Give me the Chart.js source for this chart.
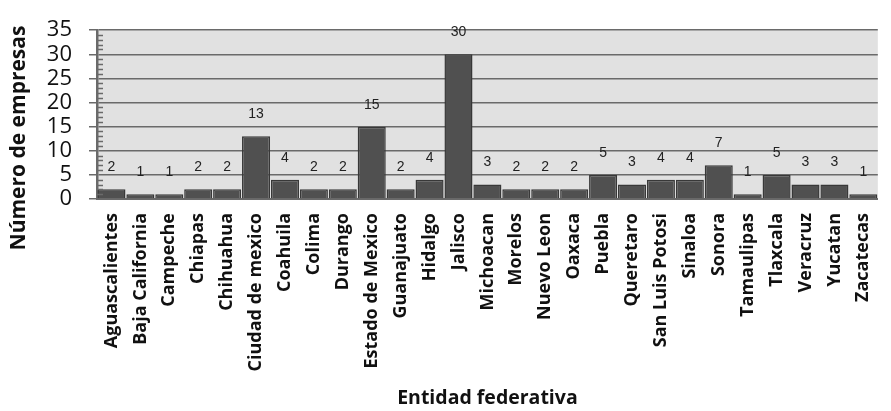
<!DOCTYPE html>
<html>
<head>
<meta charset="utf-8">
<script src="https://cdn.jsdelivr.net/npm/chart.js@4"></script>
<style>
  html, body { margin: 0; padding: 0; background: #fff; }
  #wrap { width: 891px; height: 411px; }
</style>
</head>
<body>
<div id="wrap"><canvas id="grafica" width="891" height="411"></canvas></div>
<script>
const estados = ["Aguascalientes", "Baja California", "Campeche", "Chiapas", "Chihuahua",
  "Ciudad de mexico", "Coahuila", "Colima", "Durango", "Estado de Mexico", "Guanajuato",
  "Hidalgo", "Jalisco", "Michoacan", "Morelos", "Nuevo Leon", "Oaxaca", "Puebla",
  "Queretaro", "San Luis Potosi", "Sinaloa", "Sonora", "Tamaulipas", "Tlaxcala",
  "Veracruz", "Yucatan", "Zacatecas"];
const empresas = [2, 1, 1, 2, 2, 13, 4, 2, 2, 15, 2, 4, 30, 3, 2, 2, 2, 5, 3, 4, 4, 7, 1, 5, 3, 3, 1];
const ticksY = [0, 5, 10, 15, 20, 25, 30, 35];
const tituloY = "Número de empresas";

// fondo gris del area de trazado
const fondo = {
  id: "fondo",
  beforeDraw(chart) {
    const a = chart.chartArea, ctx = chart.ctx;
    ctx.save();
    ctx.fillStyle = "#e1e1e1";
    ctx.fillRect(a.left, a.top, a.right - a.left, a.bottom - a.top);
    ctx.restore();
  }
};

// marcas menores en el eje y, etiquetas de valor y titulo del eje y
const extras = {
  id: "extras",
  afterDatasetsDraw(chart) {
    const ctx = chart.ctx, y = chart.scales.y, a = chart.chartArea;
    ctx.save();
    ctx.strokeStyle = "#6a6a6a";
    ctx.lineWidth = 1.5;
    for (let v = 0; v <= 35; v++) {
      if (v % 5 === 0) continue;
      const py = Math.round(y.getPixelForValue(v)) + 0.5;
      ctx.beginPath();
      ctx.moveTo(a.left, py);
      ctx.lineTo(a.left + 6, py);
      ctx.stroke();
    }
    ctx.fillStyle = "#222";
    ctx.font = "14px 'Liberation Sans', Arial, sans-serif";
    ctx.textAlign = "center";
    ctx.textBaseline = "middle";
    chart.getDatasetMeta(0).data.forEach((bar, i) => {
      ctx.fillText(String(empresas[i]), bar.x, bar.y - 22);
    });
    // titulo del eje y
    ctx.translate(19, 138);
    ctx.rotate(-Math.PI / 2);
    ctx.fillStyle = "#111";
    ctx.font = "bold 21px 'Open Sans', sans-serif";
    ctx.fillText(tituloY, 0, 0);
    ctx.restore();
  }
};

new Chart(document.getElementById("grafica"), {
  type: "bar",
  data: {
    labels: estados,
    datasets: [{
      data: empresas,
      backgroundColor: "#505050",
      borderColor: "#383838",
      borderWidth: 1.5,
      categoryPercentage: 1,
      barPercentage: 0.97
    }]
  },
  options: {
    responsive: false,
    animation: false,
    layout: { padding: { top: 6, right: 3, left: 0, bottom: 0 } },
    plugins: { legend: { display: false }, tooltip: { enabled: false } },
    scales: {
      x: {
        grid: { display: false },
        border: { display: true, color: "#6a6a6a", width: 2 },
        ticks: {
          minRotation: 90, maxRotation: 90, autoSkip: false, padding: 6,
          color: "#111",
          font: { family: "'Open Sans', sans-serif", size: 18, weight: "bold" }
        },
        title: {
          display: true, text: "Entidad federativa", color: "#111",
          font: { family: "'Open Sans', sans-serif", size: 19.5, weight: "bold" },
          padding: { top: 0, bottom: 1 }
        },
        afterFit: s => { s.height = 212; }
      },
      y: {
        min: 0, max: 35,
        afterBuildTicks: s => { s.ticks = ticksY.map(v => ({ value: v })); },
        grid: { color: "#6a6a6a", lineWidth: 1.5, tickLength: 8 },
        border: { display: true, color: "#6a6a6a", width: 2.5 },
        ticks: {
          autoSkip: false, padding: 17, color: "#111",
          font: { family: "'Open Sans', sans-serif", size: 22 }
        },
        afterFit: s => { s.width = 97; }
      }
    }
  },
  plugins: [fondo, extras]
});
</script>
</body>
</html>
